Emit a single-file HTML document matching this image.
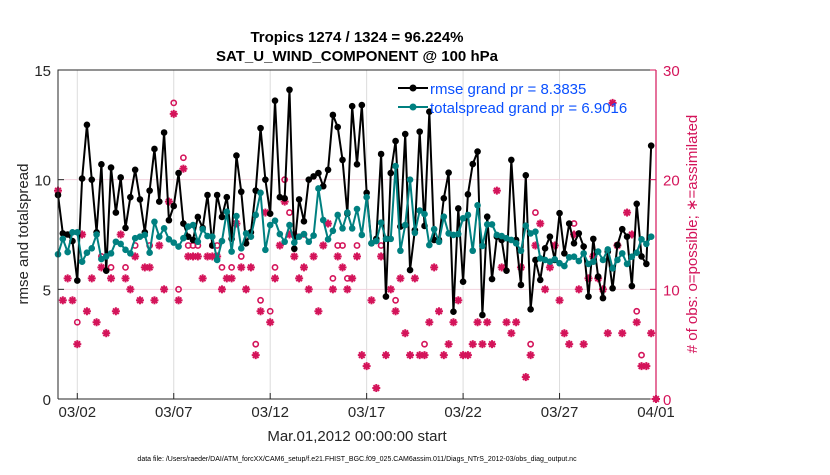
<!DOCTYPE html>
<html><head><meta charset="utf-8"><style>
body{margin:0;background:#fff;}
svg{font-family:"Liberation Sans",sans-serif;}
</style></head><body>
<svg id="chart" width="830" height="470">
<text x="357" y="42" text-anchor="middle" font-size="15" font-weight="bold">Tropics 1274 / 1324 = 96.224%</text>
<text x="357" y="61" text-anchor="middle" font-size="15" font-weight="bold">SAT_U_WIND_COMPONENT @ 100 hPa</text>
<g id="grid"></g>
<g id="marks"></g>
<g id="axes"></g>
<text x="357" y="441" text-anchor="middle" font-size="15" fill="#262626">Mar.01,2012 00:00:00 start</text>
<text transform="translate(28,234) rotate(-90)" text-anchor="middle" font-size="15" fill="#262626">rmse and totalspread</text>
<text transform="translate(697,234) rotate(-90)" text-anchor="middle" font-size="15" fill="#d4145a"># of obs: o=possible; ∗=assimilated</text>
<text x="357" y="461" text-anchor="middle" font-size="7" fill="#000">data file: /Users/raeder/DAI/ATM_forcXX/CAM6_setup/f.e21.FHIST_BGC.f09_025.CAM6assim.011/Diags_NTrS_2012-03/obs_diag_output.nc</text>
<g>
<line x1="398" y1="88" x2="428" y2="88" stroke="#000" stroke-width="2"/><circle cx="413" cy="88" r="3.5" fill="#000"/>
<text x="430" y="94" font-size="15" fill="#0a50ff">rmse grand pr = 8.3835</text>
<line x1="398" y1="107" x2="428" y2="107" stroke="#008080" stroke-width="2"/><circle cx="413" cy="107" r="3.5" fill="#008080"/>
<text x="430" y="113" font-size="15" fill="#0a50ff">totalspread grand pr = 6.9016</text>
</g>
</svg>
<script>
const rmse=[9.3,7.55,7.5,7.2,5.4,10.05,12.5,10,7.6,10.7,5.85,10.55,8.5,10.1,7.8,9.2,10.45,9.1,7.6,9.5,11.4,9,12.15,8.15,8.8,10.3,8.0,7.4,7.25,8.3,7.8,9.3,
7.0,9.3,8.3,9.2,7.3,11.1,9.45,7.1,7.6,9.5,12.35,10,8.45,13.6,9.2,9.15,14.1,6.85,9.1,8.1,10,10.15,10.3,9.7,10.45,12.95,12.4,10.9,8.45,13.35,10.7,13.4,
9.4,7.1,7.3,11.17,4.67,10.3,11.76,7.86,12.08,5.88,7.7,12.19,7.89,13.1,7.25,7.25,9.15,10.32,3.98,8.69,5.35,9.33,10.71,11.28,3.83,8.31,5.47,7.4,7.25,5.85,10.9,
7.25,5.2,10.2,4.09,6.34,5.43,6.87,7.4,6.34,8.47,6.64,8.0,7.1,7.55,6.95,4.67,7.3,5.58,4.6,6.72,5.05,7.02,7.74,7.4,5.15,8.9,6.5,6.16,11.55];
const spread=[6.6,7.3,6.7,7.6,7.6,6.26,6.67,6.87,7.5,6.38,6.5,6.64,7.17,7.07,6.8,6.64,7.33,7.4,7.48,6.67,8.08,7.4,7.78,7.28,7.13,6.95,7.33,7.86,7.93,7.17,7.74,7.43,7.4,
6.34,7.2,8.54,6.72,8.34,6.87,7.55,7.4,8.39,9.4,6.8,7.93,8.13,7.52,7.17,7.93,7.13,7.4,7.52,7.17,7.45,9.6,8.16,7.28,7.67,8.39,7.78,8.5,7.78,8.66,7.48,
9.2,7.1,7.2,8.04,7.3,7.3,10.62,6.76,7.93,10,7.58,8.59,8.43,7.02,7.74,7.17,8.31,7.55,7.48,7.52,8.24,8.39,6.76,8.83,6.98,7.96,7.96,7.48,7.43,7.33,7.25,
7.1,6.76,7.9,7.55,7.63,6.41,6.34,6.26,6.37,6.19,6.06,6.46,6.49,6.29,6.64,6.16,6.26,6.72,6.34,6.82,5.96,6.34,6.64,6.16,6.49,6.67,7.28,7.07,7.4];
const assimilated=[19,9,11,9,5,15,8,11,7,12,6,11,8,15,11,10,13,9,12,12,9,14,10,18,26,9,21,13,13,13,11,13,13,
13,10,11,11,16,12,10,12,4,8,17,7,11,14,18,15,13,11,12,10,13,8,14,16,10,13,12,10,11,13,4,
3,9,1,13,4,10,8,11,6,4,11,4,4,7,12,8,4,5,7,9,4,4,5,7,5,7,5,19,12,7,6,
7,12,2,4,14,16,10,12,14,9,6,5,15,10,5,11,13,11,10,6,27,14,6,17,15,7,3,3,6,0];
const possible=[19,9,11,9,7,15,8,11,7,13,6,12,8,15,12,10,14,9,12,14,9,14,10,18,27,10,22,14,14,14,11,13,14,
14,12,11,12,16,13,10,12,5,9,17,8,12,14,20,17,15,11,15,10,13,8,14,16,11,14,14,11,11,14,4,
3,9,1,14,4,10,9,11,6,4,11,4,5,7,12,8,4,5,7,9,4,4,5,7,5,7,5,19,12,7,6,
7,12,2,5,17,16,10,12,14,9,6,5,16,10,5,11,13,11,10,6,27,14,6,17,15,8,4,3,6,0];
const tickLabels=["03/02","03/07","03/12","03/17","03/22","03/27","04/01"];
const tickDays=[1,6,11,16,21,26,31];
const leftTicks=[0,5,10,15];
const rightTicks=[0,10,20,30];

const X0=58,X1=656,Y0=399,Y1=70;
const xs=d=>X0+(X1-X0)*d/31;
const yl=v=>Y0-(Y0-Y1)*v/15;
const yr=v=>Y0-(Y0-Y1)*v/30;
const NS="http://www.w3.org/2000/svg";
function mk(p,tag,a){const e=document.createElementNS(NS,tag);for(const k in a)e.setAttribute(k,a[k]);p.appendChild(e);return e;}
const grid=document.getElementById('grid'),marks=document.getElementById('marks'),axes=document.getElementById('axes');
const MAG="#d4145a";
tickDays.forEach((d,i)=>{
  const g=mk(grid,'line',{x1:xs(d),x2:xs(d),y1:Y1,y2:Y0,stroke:"#dcdcdc","stroke-width":1});
  
  
  const t=mk(axes,'line',{x1:xs(d),x2:xs(d),y1:Y0,y2:Y0-6,stroke:"#262626"});
  
  
  const l=mk(axes,'text',{x:xs(d),y:417,"text-anchor":"middle","font-size":15,fill:"#262626"});
  l.textContent=tickLabels[i];
  
  
});
[10,20].forEach(v=>{
  const g=mk(grid,'line',{x1:X0,x2:X1,y1:yr(v),y2:yr(v),stroke:"#f2d3de","stroke-width":1});
  
  
});
// obs markers
function star(cx,cy){
  const g=mk(marks,'g',{stroke:MAG,"stroke-width":2});
  
  
  const r=4;
  for(let k=0;k<4;k++){const a=k*Math.PI/4;mk(g,'line',{x1:cx-r*Math.cos(a),y1:cy-r*Math.sin(a),x2:cx+r*Math.cos(a),y2:cy+r*Math.sin(a)});}
  mk(g,'circle',{cx:cx,cy:cy,r:2.5,fill:MAG,stroke:"none"});
}
possible.forEach((v,i)=>{
  if(v===assimilated[i])return;
  const c=mk(marks,'circle',{cx:xs(i*0.25),cy:yr(v),r:2.6,fill:"none",stroke:MAG,"stroke-width":1.6});
  
  
});
assimilated.forEach((v,i)=>star(xs(i*0.25),yr(v)));
function series(arr,col,name){
  const p=mk(marks,'polyline',{points:arr.map((v,i)=>xs(i*0.25)+","+yl(v)).join(" "),fill:"none",stroke:col,"stroke-width":2});
  
  
  arr.forEach((v,i)=>{
    const c=mk(marks,'circle',{cx:xs(i*0.25),cy:yl(v),r:3.3,fill:col});
    
    
  });
}
series(rmse,"#000","rmse");
series(spread,"#008080","totalspread");
// axes
const fr=mk(axes,'path',{d:`M${X0},${Y0}V${Y1}H${X1}`,fill:"none",stroke:"#262626","stroke-width":1});


const bx=mk(axes,'line',{x1:X0,x2:X1,y1:Y0,y2:Y0,stroke:"#262626"});


const ra=mk(axes,'line',{x1:X1,x2:X1,y1:Y1,y2:Y0,stroke:MAG,"stroke-width":1.2});


leftTicks.forEach(v=>{
  mk(axes,'line',{x1:X0,x2:X0+6,y1:yl(v),y2:yl(v),stroke:"#262626"});
  const t=mk(axes,'text',{x:X0-7,y:yl(v)+6,"text-anchor":"end","font-size":15,fill:"#262626"});
  t.textContent=v;
  
  
});
rightTicks.forEach(v=>{
  mk(axes,'line',{x1:X1,x2:X1-6,y1:yr(v),y2:yr(v),stroke:MAG});
  const t=mk(axes,'text',{x:X1+7,y:yr(v)+6,"text-anchor":"start","font-size":15,fill:MAG});
  t.textContent=v;
  
  
});
</script>
</body></html>
